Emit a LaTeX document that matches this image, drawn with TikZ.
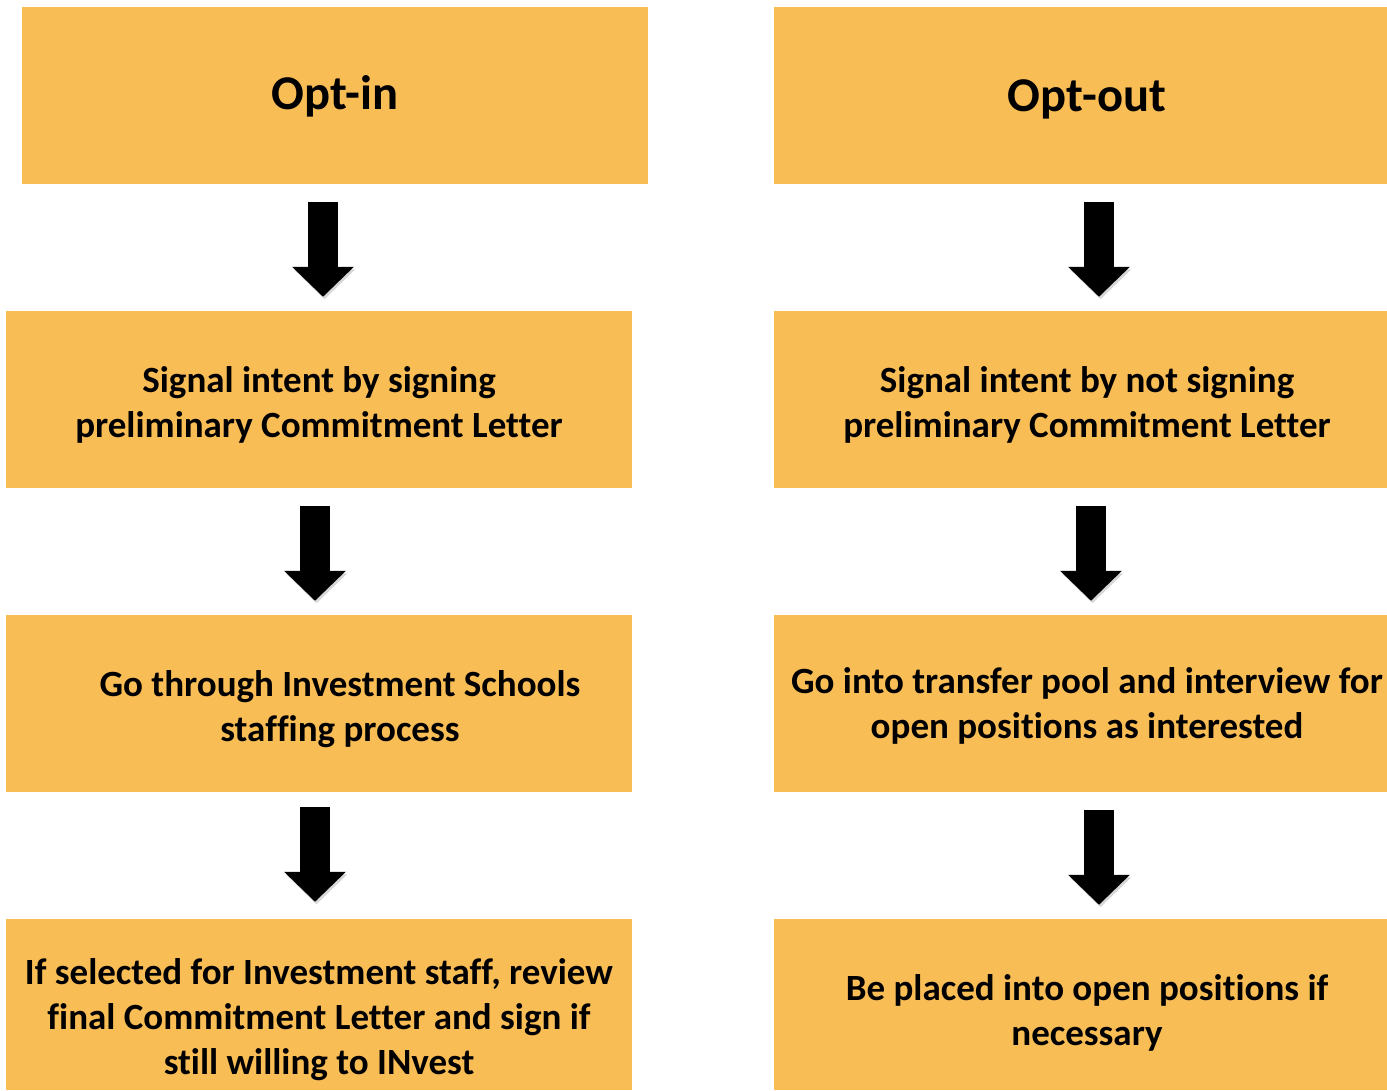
\documentclass[tikz,border=0pt]{standalone}
\usepackage{fontspec}
\setmainfont{Carlito}[Ligatures=NoCommon]
\usetikzlibrary{arrows.meta}
\definecolor{boxfill}{HTML}{F9BD55}
\tikzset{
  box/.style={fill=boxfill, draw=none, inner sep=0pt, align=center,
    font=\bfseries\fontsize{37}{45}\selectfont},
  boxtext/.style={box, fill=none},
  titletext/.style={inner sep=0pt, font=\bfseries\fontsize{48.5}{58}\selectfont},
  blockarr/.style={line width=30pt, line cap=butt, black,
    -{Triangle[width=60pt,length=30pt]},
    preaction={draw=black!35, opacity=0.45, transform canvas={xshift=1.5pt,yshift=-2.5pt}}},
}
\begin{document}
\begin{tikzpicture}[x=1pt,y=-1pt]
\useasboundingbox (0,0) rectangle (1387,1090);
% left column boxes
\node[box, minimum width=626pt, minimum height=177pt] (L1) at (335,95.5) {};
\node[titletext] (L1t) at (335,96) {Opt-in};
\node[box, minimum width=626pt, minimum height=177pt] (L2) at (319,399.5) {};
\node[boxtext] (L2t) at (319,405) {Signal intent by signing\\preliminary Commitment Letter};
\node[box, minimum width=626pt, minimum height=177pt] (L3) at (319,703.5) {};
\node[boxtext] (L3t) at (340,709) {Go through Investment Schools\\staffing process};
\node[box, minimum width=626pt, minimum height=171pt] (L4) at (319,1004.5) {};
\node[boxtext] (L4t) at (319,1019.5) {If selected for Investment staff, review\\final Commitment Letter and sign if\\still willing to INvest};
% right column boxes
\node[box, minimum width=613pt, minimum height=177pt] (R1) at (1080.5,95.5) {};
\node[titletext] (R1t) at (1087,99.5) {Opt-out};
\node[box, minimum width=613pt, minimum height=177pt] (R2) at (1080.5,399.5) {};
\node[boxtext] (R2t) at (1087,405) {Signal intent by not signing\\preliminary Commitment Letter};
\node[box, minimum width=613pt, minimum height=177pt] (R3) at (1080.5,703.5) {};
\node[boxtext] (R3t) at (1087,705.5) {Go into transfer pool and interview for\\open positions as interested};
\node[box, minimum width=613pt, minimum height=171pt] (R4) at (1080.5,1004.5) {};
\node[boxtext] (R4t) at (1087,1013) {Be placed into open positions if\\necessary};
% arrows
\draw[blockarr, shorten <=18pt, shorten >=14pt] ([xshift=-12pt]L1.south) -- ([xshift=-12pt]L1.south |- L2.north);
\draw[blockarr, shorten <=18pt, shorten >=14pt] ([xshift=-4pt]L2.south) -- ([xshift=-4pt]L2.south |- L3.north);
\draw[blockarr, shorten <=15pt, shorten >=17pt] ([xshift=-4pt]L3.south) -- ([xshift=-4pt]L3.south |- L4.north);
\draw[blockarr, shorten <=18pt, shorten >=14pt] ([xshift=18.5pt]R1.south) -- ([xshift=18.5pt]R1.south |- R2.north);
\draw[blockarr, shorten <=18pt, shorten >=14pt] ([xshift=10.5pt]R2.south) -- ([xshift=10.5pt]R2.south |- R3.north);
\draw[blockarr, shorten <=18pt, shorten >=14pt] ([xshift=18.5pt]R3.south) -- ([xshift=18.5pt]R3.south |- R4.north);
\end{tikzpicture}
\end{document}
